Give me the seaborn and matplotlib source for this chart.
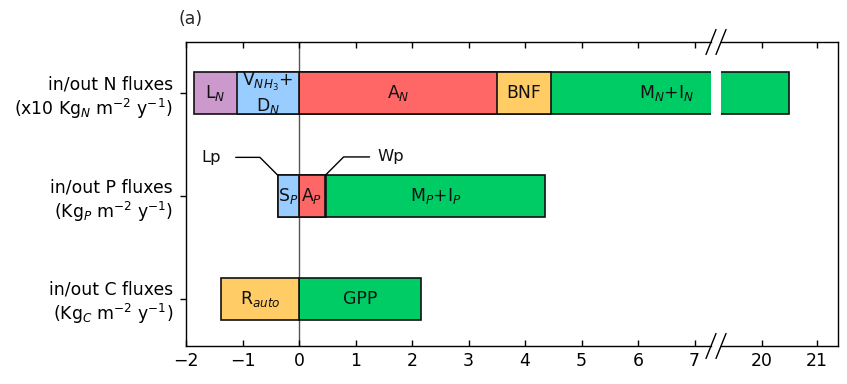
import matplotlib
matplotlib.use("Agg")
import matplotlib.pyplot as plt
import pandas as pd
import seaborn as sns

sns.set_style("ticks")
plt.rcParams["font.family"] = ["DejaVu Sans"]
plt.rcParams["mathtext.fontset"] = "dejavusans"

# ---- data -------------------------------------------------------------
rows = ["N", "P", "C"]
row_labels = [
    "in/out N fluxes\n(x10 Kg$_N$ m$^{-2}$ y$^{-1}$)",
    "in/out P fluxes\n(Kg$_P$ m$^{-2}$ y$^{-1}$)",
    "in/out C fluxes\n(Kg$_C$ m$^{-2}$ y$^{-1}$)",
]

# outgoing fluxes, listed from zero outwards (drawn to the left)
n_out_names = ["V$_{NH_3}$+\nD$_N$", "L$_N$"]
n_out_values = [1.10, 0.76]
# incoming fluxes, listed from zero outwards (drawn to the right)
n_in_names = ["A$_N$", "BNF", "M$_N$+I$_N$"]
n_in_values = [3.50, 0.95, 16.05]

p_out_names = ["S$_P$", "Lp"]
p_out_values = [0.37, 0.01]
p_in_names = ["A$_P$", "Wp", "M$_P$+I$_P$"]
p_in_values = [0.46, 0.02, 3.87]

c_out_names = ["R$_{auto}$"]
c_out_values = [1.38]
c_in_names = ["GPP"]
c_in_values = [2.15]

colors = {
    "V$_{NH_3}$+\nD$_N$": "#99CCFF", "L$_N$": "#CC99CC",
    "A$_N$": "#FF6666", "BNF": "#FFCC66", "M$_N$+I$_N$": "#00CC66",
    "S$_P$": "#99CCFF", "Lp": "#99CCFF",
    "A$_P$": "#FF6666", "Wp": "#FF6666", "M$_P$+I$_P$": "#00CC66",
    "R$_{auto}$": "#FFCC66", "GPP": "#00CC66",
}
callouts = ["Lp", "Wp"]

x_ticks_left = [-2, -1, 0, 1, 2, 3, 4, 5, 6, 7]
x_ticks_right = [20, 21]
XLIM_L = (-2, 7.29)
XLIM_R = (19.25, 21.38)


def segments(row, out_names, out_values, in_names, in_values):
    recs = []
    edge = 0.0
    for name, v in zip(out_names, out_values):
        recs.append(dict(row=row, name=name, start=edge, end=edge - v))
        edge -= v
    edge = 0.0
    for name, v in zip(in_names, in_values):
        recs.append(dict(row=row, name=name, start=edge, end=edge + v))
        edge += v
    return recs


segs = pd.DataFrame(
    segments("N", n_out_names, n_out_values, n_in_names, n_in_values)
    + segments("P", p_out_names, p_out_values, p_in_names, p_in_values)
    + segments("C", c_out_names, c_out_values, c_in_names, c_in_values)
)
# stacked look: every segment is a bar from zero to its outer edge,
# drawn from the outermost inwards so inner ones sit on top
segs["reach"] = segs["end"].abs()
segs = segs.sort_values("reach", ascending=False).reset_index(drop=True)
draw_order = list(segs["name"])

# ---- figure -----------------------------------------------------------
W, H = 847, 384
fig = plt.figure(figsize=(W / 100, H / 100), dpi=100)
ax_l = fig.add_axes([186 / W, 38 / H, 525 / W, 304 / H])
ax_r = fig.add_axes([721 / W, 38 / H, 116.5 / W, 304 / H], sharey=ax_l)

BAR_W = 0.41
FS = 12.4

for ax in (ax_l, ax_r):
    ax.axvline(0, color="#555555", lw=1.0, zorder=0.5)
    sns.barplot(
        data=segs, x="end", y="row", hue="name", order=rows,
        hue_order=draw_order, palette=colors, dodge=False, orient="y",
        width=BAR_W, saturation=1, edgecolor="#111111", linewidth=1.2,
        errorbar=None, legend=False, ax=ax,
    )
    ax.set_xlabel("")
    ax.set_ylabel("")
    for s in ax.spines.values():
        s.set_color("black")
        s.set_linewidth(1.0)
    ax.tick_params(axis="x", which="both", direction="in", top=True,
                   bottom=True, length=4, width=1, labelsize=FS,
                   colors="black", pad=4)

ax_l.set_xlim(*XLIM_L)
ax_r.set_xlim(*XLIM_R)
ax_l.set_ylim(len(rows) - 0.54, -0.5)
ax_l.set_xticks(x_ticks_left)
ax_l.set_xticklabels([f"{t}".replace("-", "\u2212") for t in x_ticks_left])
ax_r.set_xticks(x_ticks_right)
ax_r.set_xticklabels([str(t) for t in x_ticks_right])

ax_l.set_yticks(range(len(rows)))
ax_l.set_yticklabels(row_labels)
ax_l.tick_params(axis="y", direction="out", length=4.5, width=1,
                 labelsize=FS, pad=4.9, colors="black")
for lab in ax_l.get_yticklabels():
    lab.set_horizontalalignment("right")
    lab.set_multialignment("right")
ax_r.tick_params(axis="y", left=False, labelleft=False, right=False)

ax_l.spines["right"].set_visible(False)
ax_r.spines["left"].set_visible(False)

# diagonal break marks on both sides of the gap
def slash(ax, x, width_px):
    dx = 5 / width_px
    dy = 12.5 / 304
    for y in (0, 1):
        ax.plot([x - dx, x + dx], [y - dy, y + dy], transform=ax.transAxes,
                color="black", lw=1.0, clip_on=False)

slash(ax_l, 1.0, 525)
slash(ax_r, 0.0, 116.5)

# ---- segment labels ---------------------------------------------------
panels = [(ax_l, XLIM_L), (ax_r, XLIM_R)]


def visible_center(start, end):
    lo, hi = min(start, end), max(start, end)
    pieces = []
    for ax, (a, b) in panels:
        p0, p1 = max(lo, a), min(hi, b)
        if p1 > p0:
            pieces.append((ax, p0, p1))
    half = sum(p1 - p0 for _, p0, p1 in pieces) / 2
    for ax, p0, p1 in pieces:
        if half <= p1 - p0:
            return ax, p0 + half
        half -= p1 - p0
    return pieces[-1][0], pieces[-1][2]


for _, seg in segs.iterrows():
    if seg["name"] in callouts:
        continue
    ax, xc = visible_center(seg["start"], seg["end"])
    ax.text(xc, rows.index(seg["row"]), seg["name"], ha="center",
            va="center", fontsize=FS, color="#111111", multialignment="center")

# leader-line callouts for the two very small P fluxes
lp = segs[segs["name"] == "Lp"].iloc[0]
wp = segs[segs["name"] == "Wp"].iloc[0]
y_top = rows.index("P") - BAR_W / 2
ax_l.annotate("Lp", xy=(lp["end"], y_top), xytext=(-48, 12.7),
              textcoords="offset points", ha="center", va="center",
              fontsize=11.8, color="#111111",
              arrowprops=dict(arrowstyle="-", color="black", lw=1.0,
                              shrinkA=8.5, shrinkB=0,
                              connectionstyle="angle,angleA=0,angleB=135,rad=0"))
ax_l.annotate("Wp", xy=((wp["start"] + wp["end"]) / 2, y_top),
              xytext=(46.6, 13), textcoords="offset points", ha="center",
              va="center", fontsize=11.8, color="#111111",
              arrowprops=dict(arrowstyle="-", color="black", lw=1.0,
                              shrinkA=3, shrinkB=0,
                              connectionstyle="angle,angleA=0,angleB=45,rad=0"))

fig.text(178 / W, 1 - 19 / H, "(a)", ha="left", va="center", fontsize=FS)

fig.savefig("out.png", dpi=100)
